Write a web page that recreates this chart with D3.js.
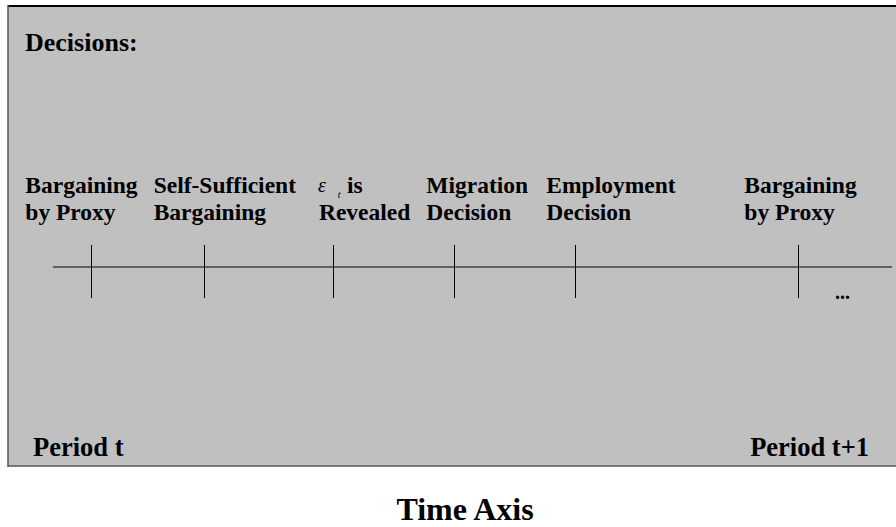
<!DOCTYPE html>
<html lang="en">
<head>
<meta charset="UTF-8">
<title>Decisions timeline</title>
<script src="https://d3js.org/d3.v7.min.js"></script>
<style>
  body { margin: 0; background: #fff; }
  svg text { font-family: "Liberation Serif", "Times New Roman", serif; font-weight: bold; fill: #000; }
</style>
</head>
<body>
<div id="chart"></div>
<script>
  // event labels (one entry per line)
  const eventLabels = [
    ["Bargaining", "by Proxy"],
    ["Self-Sufficient", "Bargaining"],
    ["is", "Revealed"],
    ["Migration", "Decision"],
    ["Employment", "Decision"],
    ["Bargaining", "by Proxy"]
  ];
  // where each event sits on the time axis (0..100)
  const eventTimes = [4.5, 18.0, 33.4, 47.8, 62.2, 88.8];
  // where each label block starts
  const labelTimes = [-3.3, 12.0, 31.7, 44.5, 58.8, 82.4];
  const periodLabels = ["Period t", "Period t+1"];

  const width = 896, height = 527;
  const svg = d3.select("#chart").append("svg")
    .attr("width", width)
    .attr("height", height);

  // panel
  svg.append("rect")
    .attr("x", 8).attr("y", 6)
    .attr("width", width).attr("height", 460)
    .attr("fill", "#c0c0c0");
  svg.append("line").attr("x1", 8).attr("x2", width).attr("y1", 6).attr("y2", 6)
    .attr("stroke", "#000").attr("stroke-width", 2);
  svg.append("line").attr("x1", 8).attr("x2", 8).attr("y1", 5).attr("y2", 467)
    .attr("stroke", "#555").attr("stroke-width", 1.5);
  svg.append("line").attr("x1", 8).attr("x2", width).attr("y1", 466).attr("y2", 466)
    .attr("stroke", "#555").attr("stroke-width", 1.5);

  svg.append("text").attr("x", 25).attr("y", 51)
    .style("font-size", "26px").text("Decisions:");

  const x = d3.scaleLinear().domain([0, 100]).range([53, 892]);
  const axisY = 267;

  svg.append("line")
    .attr("x1", x(0)).attr("x2", x(100))
    .attr("y1", axisY).attr("y2", axisY)
    .attr("stroke", "#000").attr("stroke-width", 1);

  svg.selectAll(".tick").data(eventTimes).enter().append("line")
    .attr("class", "tick")
    .attr("x1", d => Math.round(x(d)) + 0.5).attr("x2", d => Math.round(x(d)) + 0.5)
    .attr("y1", axisY - 22).attr("y2", axisY + 31)
    .attr("stroke", "#000").attr("stroke-width", 1);

  const labels = svg.selectAll(".lbl").data(eventLabels).enter().append("text")
    .attr("class", "lbl")
    .attr("x", (d, i) => x(labelTimes[i]))
    .attr("y", 193)
    .style("font-size", "23.5px");
  labels.selectAll("tspan").data((d, i) => d.map(t => ({ t, i }))).enter().append("tspan")
    .attr("x", function(d) { return x(labelTimes[d.i]) + (d.i === 2 && d.t === "is" ? 28 : 0); })
    .attr("dy", (d, j) => j === 0 ? 0 : 27)
    .text(d => d.t);

  // epsilon with subscript t
  const eps = svg.append("text")
    .attr("x", x(labelTimes[2]) - 1).attr("y", 192)
    .style("font-size", "20px").style("font-style", "italic").style("font-weight", "normal");
  eps.append("tspan").text("\u03b5");
  eps.append("tspan").attr("dx", 12).attr("dy", 6).style("font-size", "10px").text("t");

  svg.append("text").attr("x", 835).attr("y", 299)
    .style("font-size", "20px").text("...");

  svg.selectAll(".period").data(periodLabels).enter().append("text")
    .attr("class", "period")
    .attr("x", (d, i) => i === 0 ? 33 : 869)
    .attr("y", 456)
    .attr("text-anchor", (d, i) => i === 0 ? "start" : "end")
    .style("font-size", "26.5px")
    .text(d => d);

  svg.append("text").attr("x", 465).attr("y", 520)
    .attr("text-anchor", "middle")
    .style("font-size", "32px").text("Time Axis");
</script>
</body>
</html>
